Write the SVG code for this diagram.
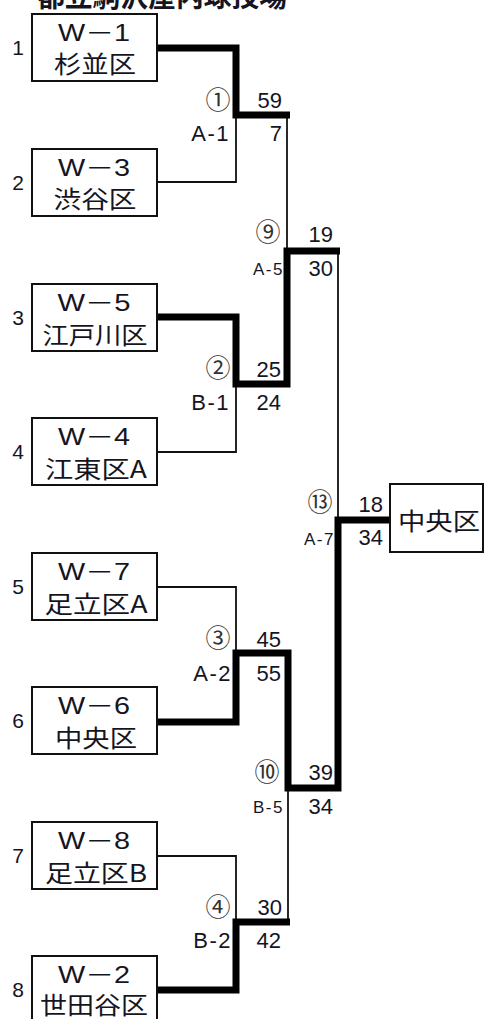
<svg xmlns="http://www.w3.org/2000/svg" width="485" height="1019" viewBox="0 0 485 1019">
<style>
.box{fill:#fff;stroke:#111;stroke-width:2}
.t{font-family:"Liberation Sans","Noto Sans CJK JP",sans-serif;fill:#15151f}
.w{font-size:23px;text-anchor:middle}
.j{font-family:"Noto Sans CJK JP",sans-serif;font-size:24px;text-anchor:middle}
.side{font-size:21px;text-anchor:middle}
.sc{font-size:22px;text-anchor:end}
.lb{font-size:22px;text-anchor:end;letter-spacing:1.5px}
.ls{font-size:17px;text-anchor:end;letter-spacing:1.5px}
.c{font-family:"Noto Sans CJK JP",sans-serif;font-size:25px;text-anchor:middle;fill:#333}
.ttl{font-family:"Noto Sans CJK JP",sans-serif;font-size:28px;font-weight:bold;fill:#15151f}
.thin{fill:none;stroke:#111;stroke-width:1.8}
.thick{fill:none;stroke:#000;stroke-width:7;stroke-linejoin:miter;stroke-linecap:butt}
</style>
<text class="ttl" x="37" y="7" textLength="250" lengthAdjust="spacingAndGlyphs">都立駒沢屋内球技場</text>
<g id="connectors">
<path class="thin" d="M157,182 H236 V115"/>
<path class="thin" d="M287,115 V251"/>
<path class="thin" d="M157,452 H236 V384"/>
<path class="thin" d="M338,251 V520"/>
<path class="thin" d="M157,587 H236 V653"/>
<path class="thin" d="M288,788 V922"/>
<path class="thin" d="M157,856 H236 V922"/>
<path class="thick" d="M157,48 H236 V115 H290"/>
<path class="thick" d="M157,317 H236 V384 H287 V251 H340"/>
<path class="thick" d="M157,722 H236 V653 H288 V788 H338 V520 H391"/>
<path class="thick" d="M157,990 H236 V922 H290"/>
</g>
<g id="team1"><rect class="box" x="32" y="14" width="125" height="67"/><text class="t side" x="18" y="55">1</text><text class="t w" x="94" y="41" textLength="72" lengthAdjust="spacingAndGlyphs">W－1</text><text class="t j" x="95" y="73" textLength="82" lengthAdjust="spacingAndGlyphs">杉並区</text></g>
<g id="team2"><rect class="box" x="32" y="149" width="125" height="67"/><text class="t side" x="18" y="190">2</text><text class="t w" x="94" y="176" textLength="72" lengthAdjust="spacingAndGlyphs">W－3</text><text class="t j" x="95" y="208" textLength="83" lengthAdjust="spacingAndGlyphs">渋谷区</text></g>
<g id="team3"><rect class="box" x="32" y="284" width="125" height="67"/><text class="t side" x="18" y="325">3</text><text class="t w" x="94" y="311" textLength="73" lengthAdjust="spacingAndGlyphs">W－5</text><text class="t j" x="95" y="344" textLength="105" lengthAdjust="spacingAndGlyphs">江戸川区</text></g>
<g id="team4"><rect class="box" x="32" y="418" width="125" height="67"/><text class="t side" x="18" y="459">4</text><text class="t w" x="94" y="445" textLength="72" lengthAdjust="spacingAndGlyphs">W－4</text><text class="t j" x="96" y="478" textLength="102" lengthAdjust="spacingAndGlyphs">江東区A</text></g>
<g id="team5"><rect class="box" x="32" y="553" width="125" height="67"/><text class="t side" x="18" y="594">5</text><text class="t w" x="94" y="580" textLength="72" lengthAdjust="spacingAndGlyphs">W－7</text><text class="t j" x="96" y="613" textLength="103" lengthAdjust="spacingAndGlyphs">足立区A</text></g>
<g id="team6"><rect class="box" x="32" y="687" width="125" height="67"/><text class="t side" x="18" y="728">6</text><text class="t w" x="94" y="714" textLength="72" lengthAdjust="spacingAndGlyphs">W－6</text><text class="t j" x="96" y="747" textLength="82" lengthAdjust="spacingAndGlyphs">中央区</text></g>
<g id="team7"><rect class="box" x="32" y="822" width="125" height="67"/><text class="t side" x="18" y="863">7</text><text class="t w" x="94" y="849" textLength="72" lengthAdjust="spacingAndGlyphs">W－8</text><text class="t j" x="96" y="882" textLength="102" lengthAdjust="spacingAndGlyphs">足立区B</text></g>
<g id="team8"><rect class="box" x="32" y="956" width="125" height="67"/><text class="t side" x="18" y="997">8</text><text class="t w" x="94" y="983" textLength="72" lengthAdjust="spacingAndGlyphs">W－2</text><text class="t j" x="94" y="1014" textLength="108" lengthAdjust="spacingAndGlyphs">世田谷区</text></g>
<g id="champion"><rect class="box" x="390" y="484" width="93" height="68"/><text class="t j" x="439" y="530" font-size="27" textLength="82" lengthAdjust="spacingAndGlyphs">中央区</text></g>
<g id="match1"><text class="c" x="218" y="109">①</text><text class="t sc" x="282" y="108">59</text><text class="t lb" x="230" y="141">A-1</text><text class="t sc" x="282" y="141">7</text></g>
<g id="match2"><text class="c" x="218" y="377">②</text><text class="t sc" x="281" y="377">25</text><text class="t lb" x="230" y="410">B-1</text><text class="t sc" x="281" y="410">24</text></g>
<g id="match3"><text class="c" x="218" y="647">③</text><text class="t sc" x="281" y="647">45</text><text class="t lb" x="232" y="681">A-2</text><text class="t sc" x="281" y="681">55</text></g>
<g id="match4"><text class="c" x="218" y="916">④</text><text class="t sc" x="282" y="915">30</text><text class="t lb" x="232" y="948">B-2</text><text class="t sc" x="281" y="948">42</text></g>
<g id="match9"><text class="c" x="268" y="241">⑨</text><text class="t sc" x="333" y="242">19</text><text class="t ls" x="284" y="275">A-5</text><text class="t sc" x="333" y="276">30</text></g>
<g id="match10"><text class="c" x="267" y="781">⑩</text><text class="t sc" x="333" y="780">39</text><text class="t ls" x="284" y="813">B-5</text><text class="t sc" x="333" y="814">34</text></g>
<g id="match13"><text class="c" x="320" y="511">⑬</text><text class="t sc" x="383" y="512">18</text><text class="t ls" x="335" y="545">A-7</text><text class="t sc" x="383" y="545">34</text></g>
</svg>
